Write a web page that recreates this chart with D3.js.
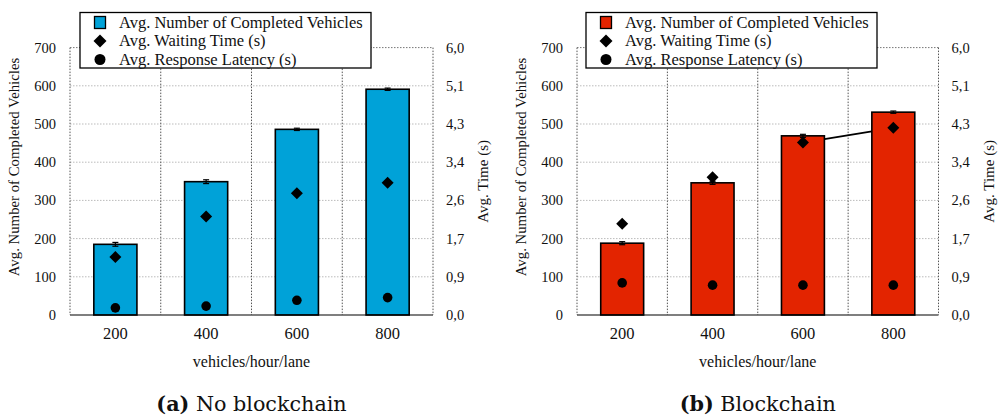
<!DOCTYPE html>
<html><head><meta charset="utf-8">
<script src="https://cdn.jsdelivr.net/npm/d3@7"></script>
<style>
html,body{margin:0;padding:0;background:#fff;}
</style></head>
<body>
<svg id="c" width="999" height="416" font-family="'Liberation Serif', serif"></svg>
<script>
// ---- data ----
const categories = ["200", "400", "600", "800"];
const vehicleTicks = [0, 100, 200, 300, 400, 500, 600, 700];
const timeTickLabels = ["0,0", "0,9", "1,7", "2,6", "3,4", "4,3", "5,1", "6,0"];
const timeMax = 6.0;

const noChainVehicles = [185, 349, 486, 591];
const noChainVehiclesErr = [5, 5, 3, 3];
const noChainWaiting = [1.30, 2.21, 2.73, 2.97];
const noChainLatency = [0.16, 0.20, 0.33, 0.39];

const chainVehicles = [188, 346, 469, 531];
const chainVehiclesErr = [4, 4, 4, 3];
const chainWaiting = [2.05, 3.09, 3.87, 4.20];
const chainLatency = [0.72, 0.67, 0.67, 0.67];
const chainWaitingLink = ["600", "800"];

const legendLabels = ["Avg. Number of Completed Vehicles", "Avg. Waiting Time (s)", "Avg. Response Latency (s)"];

const svg = d3.select("#c");

function diamondPath(r) {
  return `M0,${-r}L${r},0L0,${r}L${-r},0Z`;
}

function panel(opt) {
  const x0 = opt.x0, x1 = opt.x1, yT = 47.6, yB = 315;
  const pi = 0.525;
  const x = d3.scaleBand().domain(categories).range([x0, x1]).paddingInner(pi).paddingOuter(pi / 2);
  const y = d3.scaleLinear().domain([0, 700]).range([yB, yT]);
  const yt = d3.scaleLinear().domain([0, timeMax]).range([yB, yT]);
  const g = svg.append("g").attr("fill", "#111");
  const step = x.step();

  // horizontal grid
  g.selectAll(".hg").data(vehicleTicks.filter(d => d > 0)).join("line")
    .attr("x1", x0).attr("x2", x1).attr("y1", d => y(d)).attr("y2", d => y(d))
    .attr("stroke", d => d === 700 ? "#777" : "#bbb").attr("stroke-width", 1)
    .attr("stroke-dasharray", "1.5,1.5");
  // vertical grid between categories
  g.selectAll(".vg").data(categories.slice(0, -1)).join("line")
    .attr("x1", d => x(d) + x.bandwidth() + step * pi / 2)
    .attr("x2", d => x(d) + x.bandwidth() + step * pi / 2)
    .attr("y1", yT).attr("y2", yB)
    .attr("stroke", "#555").attr("stroke-width", 1).attr("stroke-dasharray", "1.5,1.5");
  // borders
  [x0, x1].forEach(xx => g.append("line").attr("x1", xx).attr("x2", xx).attr("y1", yT).attr("y2", yB)
    .attr("stroke", "#555").attr("stroke-width", 1).attr("stroke-dasharray", "1.5,1.5"));

  // link line behind bars
  if (opt.link) {
    const i0 = categories.indexOf(opt.link[0]), i1 = categories.indexOf(opt.link[1]);
    g.append("line")
      .attr("x1", x(opt.link[0]) + x.bandwidth() / 2).attr("y1", yt(opt.waiting[i0]))
      .attr("x2", x(opt.link[1]) + x.bandwidth() / 2).attr("y2", yt(opt.waiting[i1]))
      .attr("stroke", "#000").attr("stroke-width", 1.8);
  }

  // bars
  g.selectAll(".bar").data(categories).join("rect")
    .attr("x", d => x(d)).attr("width", x.bandwidth())
    .attr("y", (d, i) => y(opt.vehicles[i])).attr("height", (d, i) => yB - y(opt.vehicles[i]))
    .attr("fill", opt.color).attr("stroke", "#000").attr("stroke-width", 1.6);
  // error bars
  categories.forEach((c, i) => {
    const cx = x(c) + x.bandwidth() / 2;
    const v = opt.vehicles[i], e = opt.err[i];
    g.append("line").attr("x1", cx).attr("x2", cx).attr("y1", y(v + e)).attr("y2", y(v - e))
      .attr("stroke", "#000").attr("stroke-width", 1.2);
    [v + e, v - e].forEach(vv => g.append("line").attr("x1", cx - 3).attr("x2", cx + 3)
      .attr("y1", y(vv)).attr("y2", y(vv)).attr("stroke", "#000").attr("stroke-width", 1.2));
  });
  // bottom axis line
  g.append("line").attr("x1", x0).attr("x2", x1).attr("y1", yB).attr("y2", yB)
    .attr("stroke", "#000").attr("stroke-width", 1.2);

  // markers
  g.selectAll(".wt").data(categories).join("path")
    .attr("d", diamondPath(6))
    .attr("transform", (d, i) => `translate(${x(d) + x.bandwidth() / 2},${yt(opt.waiting[i])})`)
    .attr("fill", "#000");
  g.selectAll(".lt").data(categories).join("circle")
    .attr("cx", d => x(d) + x.bandwidth() / 2).attr("cy", (d, i) => yt(opt.latency[i]))
    .attr("r", 4.8).attr("fill", "#000");

  // left axis labels
  g.selectAll(".ly").data(vehicleTicks).join("text")
    .attr("x", x0 - 14).attr("y", d => y(d)).attr("dy", "0.35em")
    .attr("text-anchor", "end").attr("font-size", 14.5).text(d => d);
  // right axis labels
  g.selectAll(".ry").data(timeTickLabels).join("text")
    .attr("x", x1 + 13).attr("y", (d, i) => y(i * 100)).attr("dy", "0.35em")
    .attr("text-anchor", "start").attr("font-size", 14.5).text(d => d);
  // x tick labels
  g.selectAll(".xl").data(categories).join("text")
    .attr("x", d => x(d) + x.bandwidth() / 2).attr("y", 339)
    .attr("text-anchor", "middle").attr("font-size", 16.5).text(d => d);
  // axis titles
  g.append("text").attr("transform", `translate(${x0 - 51},167) rotate(-90)`)
    .attr("text-anchor", "middle").attr("font-size", 14.8).text("Avg. Number of Completed Vehicles");
  g.append("text").attr("transform", `translate(${x1 + 55},${(yT + yB) / 2}) rotate(-90)`)
    .attr("text-anchor", "middle").attr("font-size", 15).text("Avg. Time (s)");
  g.append("text").attr("x", (x0 + x1) / 2).attr("y", 367)
    .attr("text-anchor", "middle").attr("font-size", 16).text("vehicles/hour/lane");

  // caption
  const cap = g.append("text").attr("x", (x0 + x1) / 2).attr("y", 411)
    .attr("text-anchor", "middle").attr("font-size", 20.7).attr("font-family", "'DejaVu Serif', serif");
  cap.append("tspan").attr("font-weight", "bold").text(opt.capLetter);
  cap.append("tspan").text(" " + opt.capText);

  // legend
  const lx = opt.legX, ly = 12.5, lw = 291, lh = 55.5;
  g.append("rect").attr("x", lx).attr("y", ly).attr("width", lw).attr("height", lh)
    .attr("fill", "#fff").attr("stroke", "#000").attr("stroke-width", 1.3);
  const rows = [22.5, 41, 59.5];
  const mx = lx + 20;
  g.append("rect").attr("x", mx - 5.5).attr("y", rows[0] - 6).attr("width", 11).attr("height", 12)
    .attr("fill", opt.color).attr("stroke", "#000").attr("stroke-width", 1.3);
  g.append("path").attr("d", diamondPath(6.5))
    .attr("transform", `translate(${mx},${rows[1]})`).attr("fill", "#000");
  g.append("circle").attr("cx", mx).attr("cy", rows[2]).attr("r", 5.5).attr("fill", "#000");
  legendLabels.forEach((t, i) => g.append("text").attr("x", lx + 39).attr("y", rows[i]).attr("dy", "0.33em")
    .attr("font-size", 16.5).text(t));
}

panel({x0: 70, x1: 433, color: "#00a2d8", vehicles: noChainVehicles, err: noChainVehiclesErr,
  waiting: noChainWaiting, latency: noChainLatency, legX: 80, capLetter: "(a)", capText: "No blockchain"});
panel({x0: 577, x1: 938.5, color: "#e32400", vehicles: chainVehicles, err: chainVehiclesErr,
  waiting: chainWaiting, latency: chainLatency, legX: 586, capLetter: "(b)", capText: "Blockchain",
  link: chainWaitingLink});
</script>
</body></html>
